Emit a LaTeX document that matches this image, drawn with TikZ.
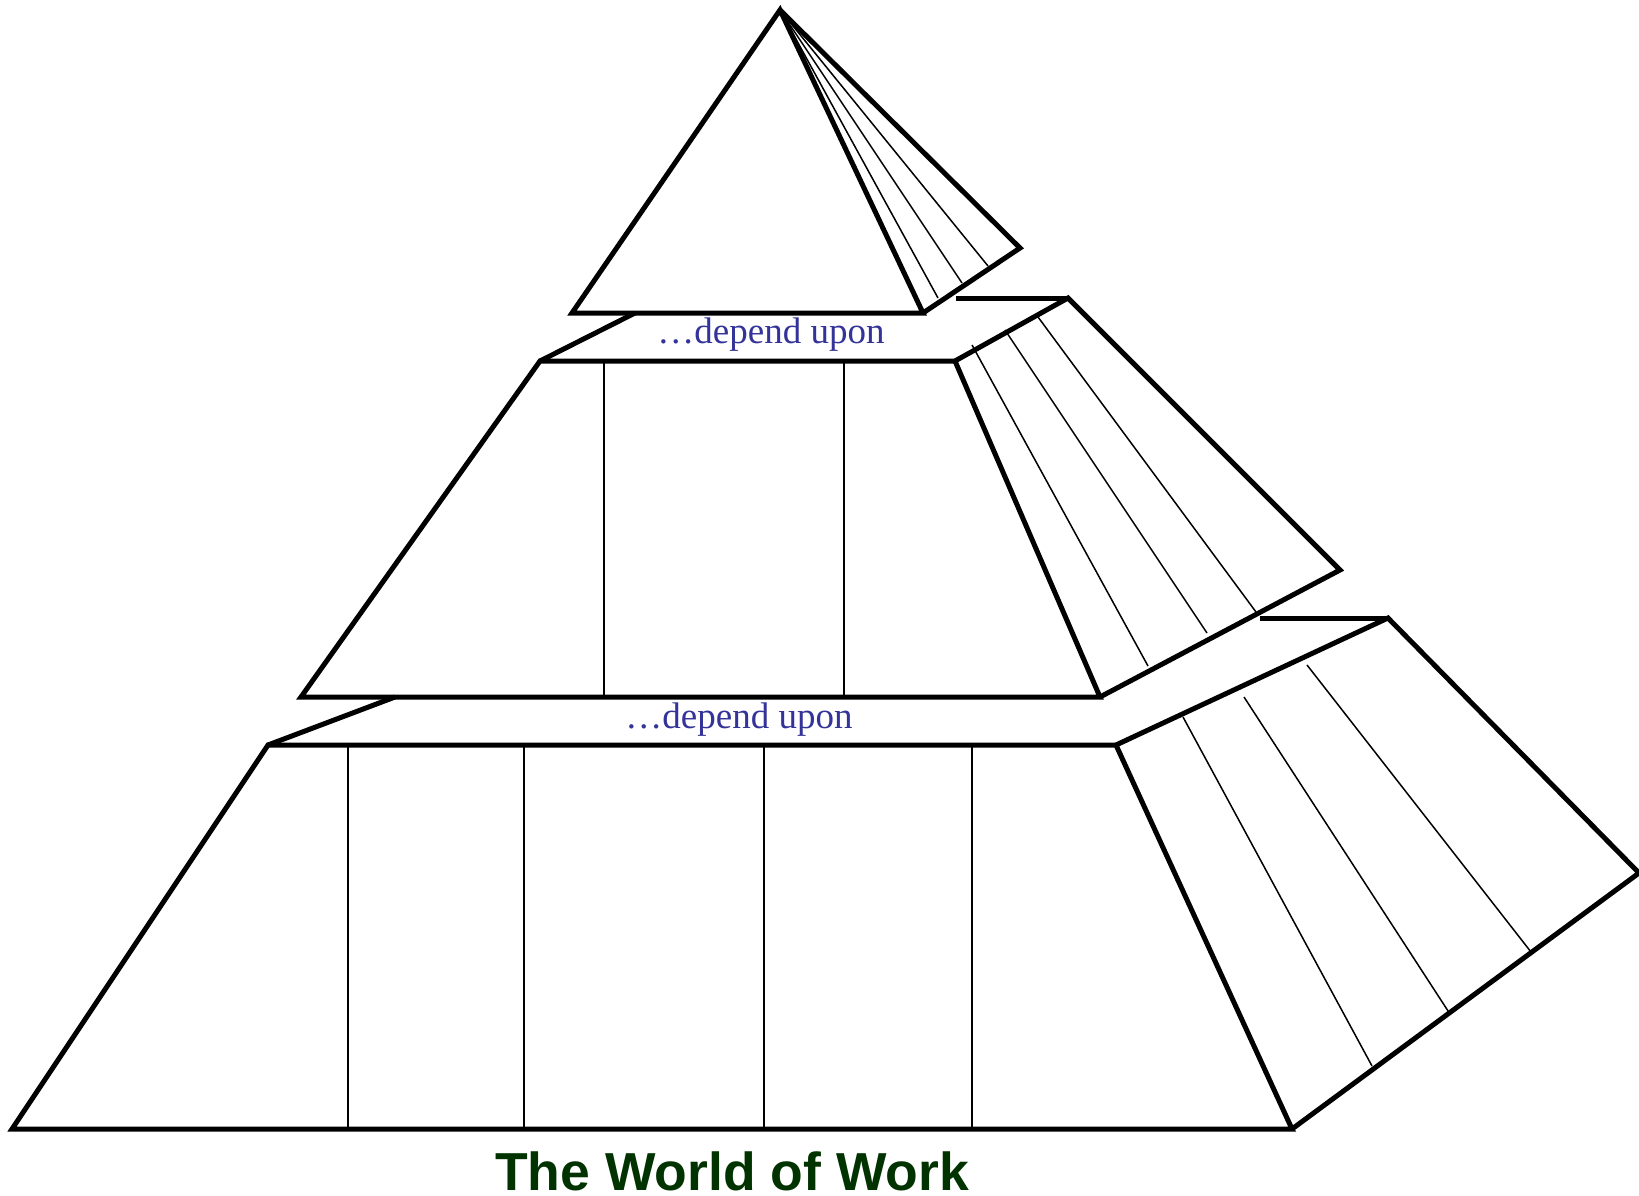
\documentclass[tikz,border=0pt]{standalone}
\usepackage{fontspec}
\setmainfont{Liberation Serif}
\newfontfamily\titlefont{Liberation Sans}
\definecolor{bandblue}{RGB}{51,51,153}
\definecolor{titlegreen}{RGB}{0,51,0}
\tikzset{
  thick edge/.style={line width=5pt, line join=miter},
  thin edge/.style={line width=1.5pt},
  bandtext/.style={text=bandblue, font=\fontsize{37}{40}\selectfont, anchor=base, inner sep=0pt},
  titletext/.style={text=titlegreen, font=\titlefont\bfseries\fontsize{53.5}{60}\selectfont, anchor=base, inner sep=0pt, text depth=0pt}
}
\begin{document}
\begin{tikzpicture}[x=1pt,y=-1pt]
\useasboundingbox (0,0) rectangle (1639,1196);
% ---------- top pyramid ----------
\coordinate (apex) at (780,10);
\coordinate (tbl) at (572,313);
\coordinate (tbr) at (923,313);
\coordinate (tbk) at (1020,248);
\draw[thick edge] (tbl) -- (apex) -- (tbr) -- cycle;
\draw[thick edge] (apex) -- (tbk) -- (tbr);
\foreach \p in {(938,298),(962,283),(988,266)}
  \draw[thin edge] (apex) -- \p;
% ---------- middle tier ----------
\coordinate (mtl) at (540,361);
\coordinate (mtr) at (955,361);
\coordinate (mbl) at (301,697);
\coordinate (mbr) at (1100,697);
\coordinate (mbk) at (1068,298);
\coordinate (mfr) at (1340,570);
\draw[thick edge] (mtl) -- (635,313);
\draw[thick edge] (956,298) -- (mbk);
\draw[thick edge] (mtl) -- (mtr) -- (mbr) -- (mbl) -- cycle;
\draw[thick edge] (mtr) -- (mbk) -- (mfr) -- (mbr);
\draw[thin edge] (604,361) -- (604,697);
\draw[thin edge] (844,361) -- (844,697);
\draw[thin edge] (972,345) -- (1148,666);
\draw[thin edge] (1005,330) -- (1207,633);
\draw[thin edge] (1038,317) -- (1256,612);
\node[bandtext] (band1) at (771,343) {\ldots depend upon};
% ---------- bottom tier ----------
\coordinate (btl) at (268,745);
\coordinate (btr) at (1116,745);
\coordinate (bbl) at (12,1129);
\coordinate (bbr) at (1292,1129);
\coordinate (bbk) at (1388,618);
\coordinate (bfr) at (1639,873);
\draw[thick edge] (btl) -- (395,697);
\draw[thick edge] (1260,618) -- (bbk);
\draw[thick edge] (btl) -- (btr) -- (bbr) -- (bbl) -- cycle;
\draw[thick edge] (btr) -- (bbk) -- (bfr) -- (bbr);
\foreach \x in {348,524,764,972}
  \draw[thin edge] (\x,745) -- (\x,1129);
\draw[thin edge] (1183,717) -- (1372,1066);
\draw[thin edge] (1244,697) -- (1450,1014);
\draw[thin edge] (1307,665) -- (1531,952);
\node[bandtext] (band2) at (739,728) {\ldots depend upon};
% ---------- title ----------
\node[titletext] (title) at (732,1190) {The World of Work};
\end{tikzpicture}
\end{document}
